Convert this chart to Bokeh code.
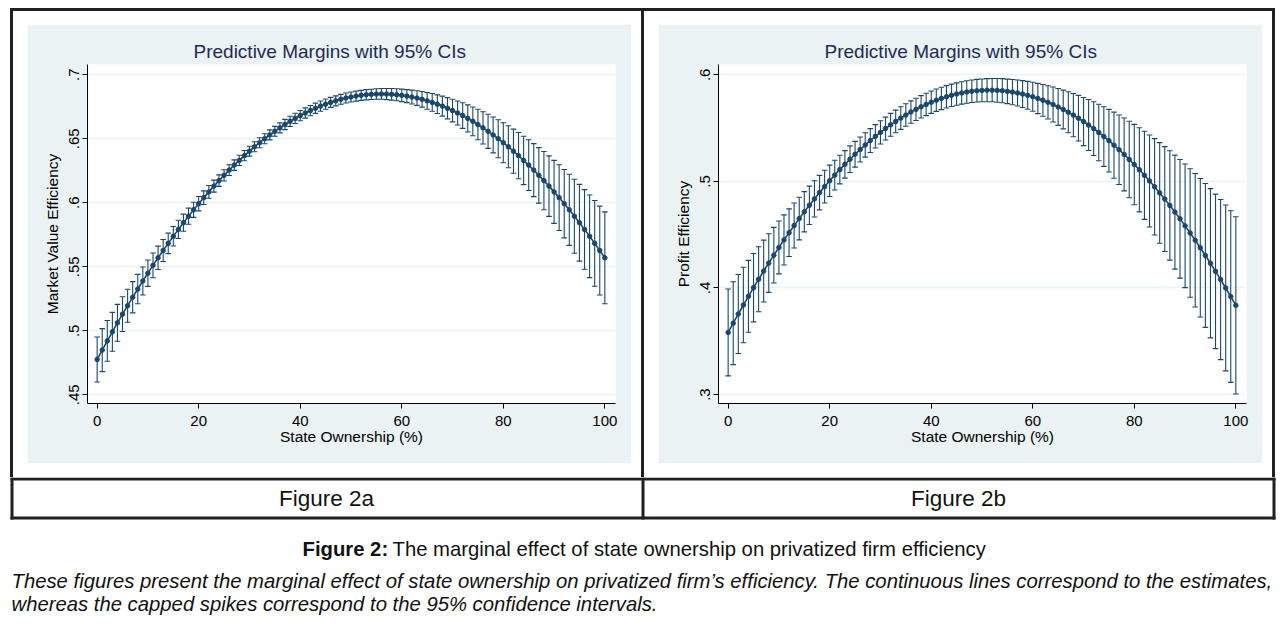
from bokeh.plotting import figure
from bokeh.models import Range1d, FixedTicker, ColumnDataSource, Spacer
from bokeh.layouts import column, row
from bokeh.embed import file_html
from bokeh.resources import INLINE
from bokeh.core.properties import value

# ---------------- data ----------------
state_ownership = list(range(0, 101))

est_a = [0.4776, 0.4849, 0.4921, 0.4992, 0.5062, 0.5130, 0.5196, 0.5262, 0.5326, 0.5389,
         0.5450, 0.5511, 0.5570, 0.5627, 0.5683, 0.5738, 0.5792, 0.5844, 0.5895, 0.5945,
         0.5993, 0.6040, 0.6085, 0.6130, 0.6173, 0.6214, 0.6255, 0.6294, 0.6331, 0.6368,
         0.6403, 0.6437, 0.6469, 0.6500, 0.6530, 0.6558, 0.6585, 0.6611, 0.6636, 0.6659,
         0.6681, 0.6701, 0.6720, 0.6738, 0.6755, 0.6770, 0.6784, 0.6796, 0.6808, 0.6818,
         0.6826, 0.6833, 0.6839, 0.6844, 0.6847, 0.6849, 0.6850, 0.6849, 0.6847, 0.6844,
         0.6839, 0.6833, 0.6826, 0.6818, 0.6808, 0.6796, 0.6784, 0.6770, 0.6755, 0.6738,
         0.6720, 0.6701, 0.6681, 0.6659, 0.6636, 0.6611, 0.6585, 0.6558, 0.6530, 0.6500,
         0.6469, 0.6437, 0.6403, 0.6368, 0.6331, 0.6294, 0.6255, 0.6214, 0.6173, 0.6130,
         0.6085, 0.6040, 0.5993, 0.5945, 0.5895, 0.5844, 0.5792, 0.5738, 0.5683, 0.5627,
         0.5570]

moe_a = [0.0176, 0.0168, 0.0159, 0.0152, 0.0144, 0.0136, 0.0129, 0.0122, 0.0115, 0.0109,
         0.0103, 0.0097, 0.0091, 0.0086, 0.0080, 0.0076, 0.0071, 0.0067, 0.0063, 0.0059,
         0.0056, 0.0053, 0.0050, 0.0047, 0.0045, 0.0044, 0.0042, 0.0041, 0.0040, 0.0040,
         0.0039, 0.0039, 0.0039, 0.0039, 0.0039, 0.0039, 0.0039, 0.0040, 0.0040, 0.0040,
         0.0040, 0.0040, 0.0040, 0.0040, 0.0040, 0.0040, 0.0039, 0.0039, 0.0039, 0.0039,
         0.0039, 0.0039, 0.0039, 0.0040, 0.0040, 0.0041, 0.0042, 0.0043, 0.0045, 0.0047,
         0.0049, 0.0051, 0.0054, 0.0057, 0.0061, 0.0065, 0.0069, 0.0073, 0.0078, 0.0083,
         0.0088, 0.0094, 0.0100, 0.0106, 0.0112, 0.0119, 0.0126, 0.0133, 0.0140, 0.0148,
         0.0156, 0.0164, 0.0172, 0.0181, 0.0189, 0.0198, 0.0207, 0.0217, 0.0227, 0.0236,
         0.0246, 0.0257, 0.0267, 0.0278, 0.0289, 0.0300, 0.0311, 0.0323, 0.0335, 0.0347,
         0.0359]

est_b = [0.3583, 0.3670, 0.3756, 0.3840, 0.3922, 0.4003, 0.4082, 0.4159, 0.4234, 0.4308,
         0.4380, 0.4451, 0.4519, 0.4586, 0.4651, 0.4715, 0.4776, 0.4836, 0.4895, 0.4951,
         0.5006, 0.5059, 0.5111, 0.5160, 0.5208, 0.5255, 0.5299, 0.5342, 0.5383, 0.5423,
         0.5460, 0.5496, 0.5531, 0.5563, 0.5594, 0.5623, 0.5651, 0.5676, 0.5700, 0.5722,
         0.5743, 0.5762, 0.5779, 0.5794, 0.5808, 0.5820, 0.5830, 0.5839, 0.5846, 0.5851,
         0.5854, 0.5856, 0.5856, 0.5854, 0.5851, 0.5845, 0.5838, 0.5830, 0.5820, 0.5808,
         0.5794, 0.5778, 0.5761, 0.5742, 0.5722, 0.5699, 0.5675, 0.5649, 0.5622, 0.5593,
         0.5562, 0.5529, 0.5495, 0.5459, 0.5421, 0.5382, 0.5340, 0.5297, 0.5253, 0.5206,
         0.5158, 0.5109, 0.5057, 0.5004, 0.4949, 0.4892, 0.4834, 0.4774, 0.4712, 0.4649,
         0.4583, 0.4516, 0.4448, 0.4377, 0.4305, 0.4232, 0.4156, 0.4079, 0.4000, 0.3919,
         0.3837]

moe_b = [0.0408, 0.0389, 0.0371, 0.0354, 0.0337, 0.0321, 0.0305, 0.0290, 0.0275, 0.0261,
         0.0248, 0.0235, 0.0223, 0.0211, 0.0200, 0.0189, 0.0180, 0.0170, 0.0162, 0.0154,
         0.0147, 0.0140, 0.0134, 0.0129, 0.0125, 0.0121, 0.0117, 0.0114, 0.0112, 0.0110,
         0.0109, 0.0107, 0.0107, 0.0106, 0.0106, 0.0105, 0.0105, 0.0105, 0.0105, 0.0105,
         0.0105, 0.0105, 0.0105, 0.0105, 0.0105, 0.0105, 0.0105, 0.0105, 0.0106, 0.0106,
         0.0107, 0.0108, 0.0109, 0.0111, 0.0113, 0.0115, 0.0118, 0.0122, 0.0126, 0.0131,
         0.0136, 0.0142, 0.0149, 0.0156, 0.0164, 0.0173, 0.0182, 0.0192, 0.0203, 0.0214,
         0.0226, 0.0239, 0.0252, 0.0265, 0.0280, 0.0294, 0.0310, 0.0326, 0.0342, 0.0359,
         0.0377, 0.0395, 0.0413, 0.0432, 0.0452, 0.0472, 0.0492, 0.0513, 0.0535, 0.0557,
         0.0580, 0.0603, 0.0626, 0.0650, 0.0675, 0.0700, 0.0725, 0.0751, 0.0778, 0.0805,
         0.0832]

x_ticks = [0, 20, 40, 60, 80, 100]
y_ticks_a = [0.45, 0.5, 0.55, 0.6, 0.65, 0.7]
y_labels_a = [".45", ".5", ".55", ".6", ".65", ".7"]
y_ticks_b = [0.3, 0.4, 0.5, 0.6]
y_labels_b = [".3", ".4", ".5", ".6"]

panel_title = "Predictive Margins with 95% CIs"
x_title = "State Ownership (%)"
y_title_a = "Market Value Efficiency"
y_title_b = "Profit Efficiency"
cell_labels = ["Figure 2a", "Figure 2b"]
caption_bold = "Figure 2:"
caption_rest = "The marginal effect of state ownership on privatized firm efficiency"
note_line1 = ("These figures present the marginal effect of state ownership on privatized firm\u2019s "
              "efficiency. The continuous lines correspond to the estimates,")
note_line2 = "whereas the capped spikes correspond to the 95% confidence intervals."

# ---------------- style ----------------
FONT = "Liberation Sans"
NAVY = "#1A476F"
BG = "#EAF2F3"
INK = "#231F20"
TITLE_C = "#1E2B58"
GW, GH = 604, 439          # graph region (light blue) size
ROW_H = 466                # height of the upper table row
BAR = 3                    # table rule thickness


def bar(w, h, **kw):
    return Spacer(width=w, height=h, styles={"background-color": INK}, **kw)


def make_panel(est, moe, yticks, ylabels, yr, ytitle, margin):
    p = figure(width=GW, height=GH, output_backend="svg", toolbar_location=None,
               x_range=Range1d(-1.9, 102.1), y_range=Range1d(*yr),
               min_border_left=60, min_border_right=16,
               min_border_top=40, min_border_bottom=60, margin=margin)
    p.border_fill_color = BG
    p.background_fill_color = "white"
    p.outline_line_color = None

    p.title.text = panel_title
    p.title.align = "left"
    p.title.offset = 106
    p.title.text_font = FONT
    p.title.text_font_size = "19px"
    p.title.text_font_style = "normal"
    p.title.text_color = TITLE_C
    p.title.standoff = 5

    lo = [e - m for e, m in zip(est, moe)]
    hi = [e + m for e, m in zip(est, moe)]
    cl = [x - 0.55 for x in state_ownership]
    cr = [x + 0.55 for x in state_ownership]
    src = ColumnDataSource(dict(x=state_ownership, est=est, lo=lo, hi=hi, cl=cl, cr=cr))

    p.segment(x0="x", y0="lo", x1="x", y1="hi", source=src, line_color=NAVY, line_width=1.1)
    p.segment(x0="cl", y0="hi", x1="cr", y1="hi", source=src, line_color=NAVY, line_width=1.1)
    p.segment(x0="cl", y0="lo", x1="cr", y1="lo", source=src, line_color=NAVY, line_width=1.1)
    p.line(x="x", y="est", source=src, line_color=NAVY, line_width=1.6)
    p.scatter(x="x", y="est", source=src, size=4.5, fill_color=NAVY, line_color=NAVY)

    xa = p.xaxis[0]
    xa.ticker = FixedTicker(ticks=x_ticks)
    xa.axis_label = x_title
    ya = p.yaxis[0]
    ya.ticker = FixedTicker(ticks=yticks)
    ya.major_label_overrides = {t: l for t, l in zip(yticks, ylabels)}
    ya.major_label_orientation = "vertical"
    ya.axis_label = ytitle
    for ax in (xa, ya):
        ax.axis_line_color = "black"
        ax.axis_line_width = 1
        ax.major_tick_line_color = "black"
        ax.major_tick_out = 5
        ax.major_tick_in = 0
        ax.minor_tick_line_color = None
        ax.major_label_text_font = FONT
        ax.major_label_text_font_size = "15px"
        ax.major_label_text_color = "black"
        ax.axis_label_text_font = FONT
        ax.axis_label_text_font_size = "15.5px"
        ax.axis_label_text_font_style = "normal"
        ax.axis_label_text_color = "black"
    xa.major_label_standoff = 7
    xa.axis_label_standoff = -1
    ya.major_label_standoff = 3
    ya.axis_label_standoff = 6

    p.xgrid.visible = False
    p.ygrid.ticker = FixedTicker(ticks=yticks)
    p.ygrid.grid_line_color = BG
    p.ygrid.grid_line_width = 1.5
    return p


pa = make_panel(est_a, moe_a, y_ticks_a, y_labels_a, (0.4432, 0.708), y_title_a,
                (13, 10, 14, 14))
pb = make_panel(est_b, moe_b, y_ticks_b, y_labels_b, (0.2916, 0.6097), y_title_b,
                (13, 10, 14, 14))

top_rule = bar(1265, BAR, margin=(8, 0, 0, 10))
mid_row = row(Spacer(width=10, height=ROW_H), bar(BAR, ROW_H), pa, bar(BAR, ROW_H), pb,
              bar(BAR, ROW_H))

# ---------------- bottom strip: cell labels and caption ----------------
BW, BH = 1287, 148
pc = figure(width=BW, height=BH, output_backend="svg", toolbar_location=None,
            x_range=Range1d(0, BW), y_range=Range1d(BH, 0), min_border=0)
pc.axis.visible = False
pc.grid.visible = False
pc.outline_line_color = None
pc.background_fill_color = "white"
pc.border_fill_color = "white"

pc.quad(left=[10, 10, 10, 641, 1272], right=[1275, 1275, 13, 644, 1275],
        top=[0, 39, 0, 0, 0], bottom=[3, 42, 42, 42, 42],
        fill_color=INK, line_color=None)

pc.text(x=[326, 958], y=[21, 21], text=cell_labels, text_font=value(FONT),
        text_font_size="22.5px", text_align="center", text_baseline="middle", text_color="#111111")
pc.text(x=[302], y=[71], text=[caption_bold], text_font=value(FONT), text_font_size="20.3px",
        text_font_style="bold", text_align="left", text_baseline="middle", text_color="#111111")
pc.text(x=[392], y=[71], text=[caption_rest], text_font=value(FONT), text_font_size="20.3px",
        text_align="left", text_baseline="middle", text_color="#111111")
pc.text(x=[11, 11], y=[103, 126], text=[note_line1, note_line2], text_font=value(FONT),
        text_font_size="20.3px", text_font_style="italic", text_align="left",
        text_baseline="middle", text_color="#111111")

layout = column(top_rule, mid_row, pc)
open("out.html", "w").write(file_html(layout, INLINE))
